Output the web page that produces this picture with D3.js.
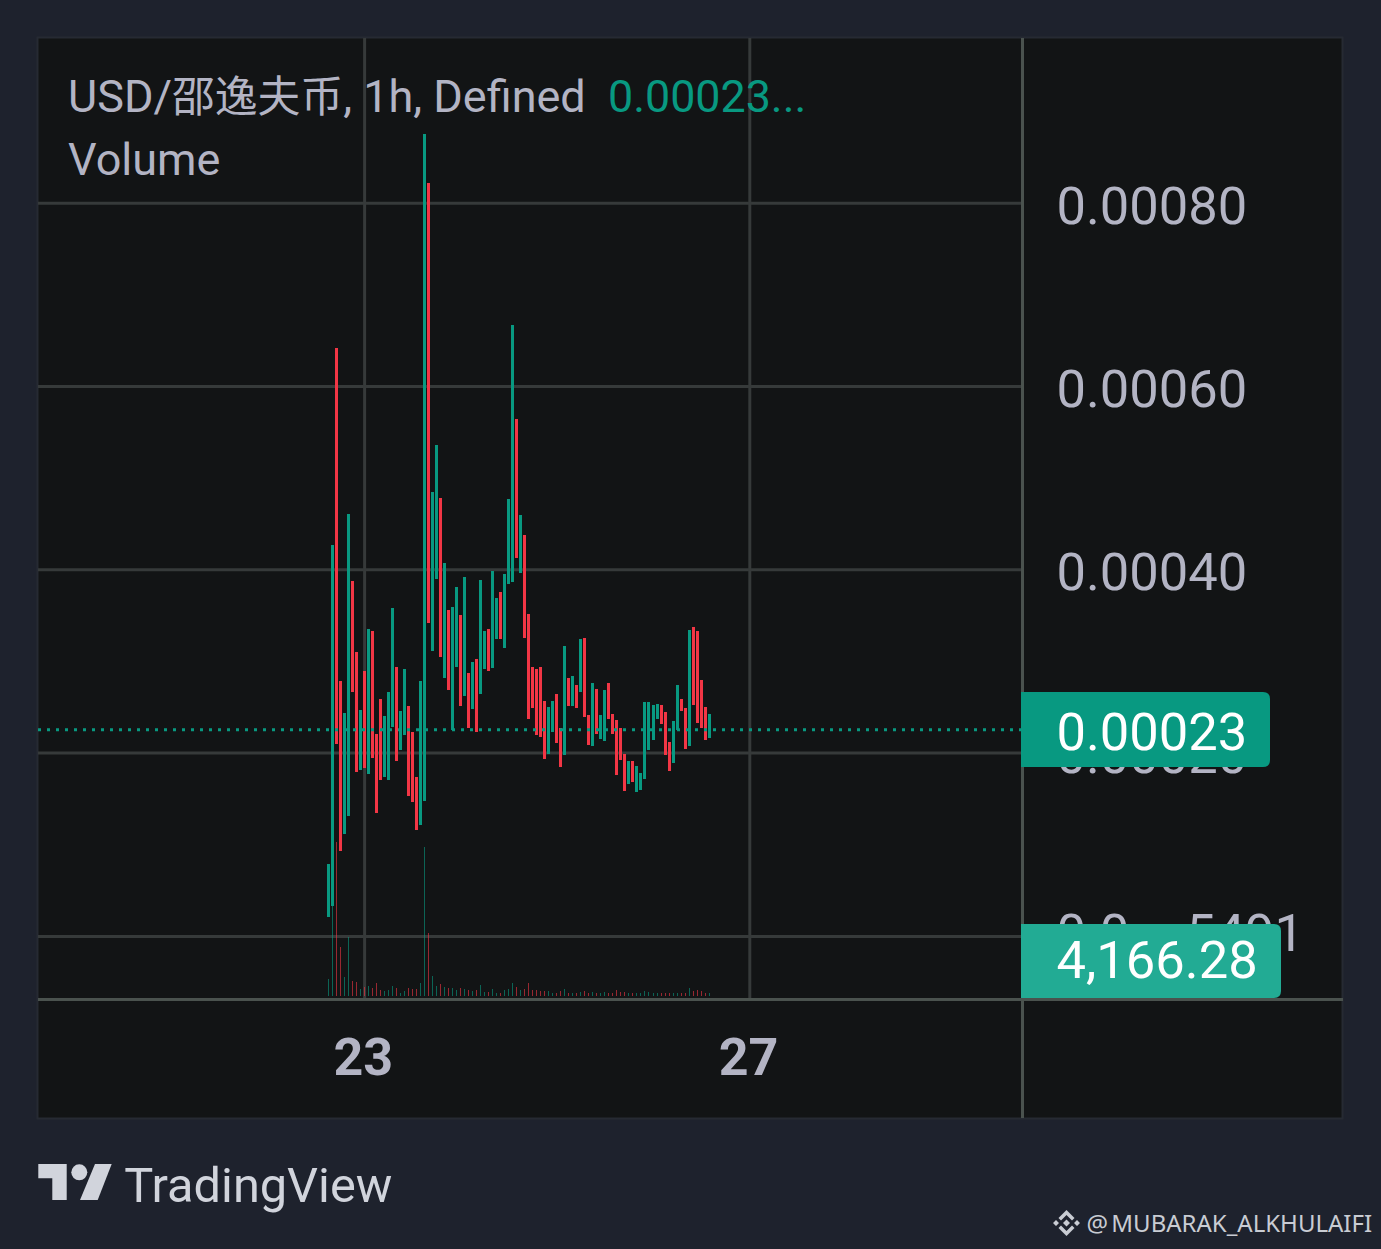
<!DOCTYPE html>
<html><head><meta charset="utf-8">
<script src="https://d3js.org/d3.v7.min.js"></script>
<style>html,body{margin:0;padding:0;background:#1e222d;overflow:hidden}svg{display:block}text{font-family:Roboto,"Noto Sans CJK SC",sans-serif}</style>
</head><body><svg id="c" width="1381" height="1249"></svg>
<script>
// Prices in millionths of a USD, hourly bars
const opens=[21.1,33.1,641.9,278.6,111.6,131.3,387.7,310.2,181.5,289.5,177.1,333.1,220.7,258.9,173.8,170.5,228.4,293.8,203.3,219.6,251.3,222.9,173.8,121.4,147.6,821.9,311.3,389.9,478.2,281.8,356.0,225.1,293.8,350.6,262.2,287.3,248.0,302.6,264.4,291.7,335.3,292.7,324.4,375.7,314.6,384.4,386.6,564.4,396.4,437.9,351.7,293.8,291.7,293.8,256.7,198.9,222.9,264.4,227.3,197.8,281.8,251.3,274.2,266.6,325.5,241.5,207.6,269.8,215.3,213.1,276.4,242.6,236.0,227.3,198.9,166.2,191.3,157.4,159.6,171.6,203.3,214.2,237.1,252.4,244.7,212.0,189.1,225.1,258.9,249.1,207.6,337.5,333.1,279.6,250.2,216.4];
const closes=[78.9,426.9,209.8,93.1,243.6,460.8,266.6,179.3,246.9,183.6,335.3,194.5,134.5,170.5,240.4,266.6,358.2,191.3,245.8,291.7,153.1,146.5,116.0,278.6,875.4,341.8,484.8,536.1,304.7,407.3,268.7,359.3,381.1,251.3,392.0,227.3,299.3,222.9,388.8,333.1,289.5,398.6,369.1,324.4,395.3,477.1,667.0,412.8,459.7,325.5,237.1,249.1,219.6,217.5,193.5,250.2,256.7,210.9,184.7,316.7,251.3,284.0,249.1,324.4,239.3,208.7,276.4,220.7,241.5,268.7,237.1,220.7,176.0,192.4,158.5,191.3,168.4,185.8,178.2,255.6,255.6,252.4,253.5,231.6,197.8,180.4,234.9,274.2,245.8,204.4,334.2,252.4,232.7,227.3,214.2,242.6];
// Volume in thousands
const volumes=[23.6,161,214,68,26.4,82,20.8,19.4,9.72,12.5,13.9,11.1,18.1,8.33,6.94,8.33,13.9,11.1,4.17,6.94,11.1,9.72,9.72,18.1,207,87.5,27.8,13.9,16.7,12.5,11.1,11.1,8.33,11.1,9.72,8.33,6.94,8.33,15.3,5.56,5.56,9.72,4.17,4.17,8.33,9.72,18.1,12.5,8.33,9.72,18.1,8.33,8.33,6.94,6.94,6.94,4.17,4.17,6.94,9.72,4.17,4.17,4.17,5.56,6.94,4.17,5.56,4.17,4.17,5.56,4.17,4.17,8.33,5.56,5.56,4.17,4.17,4.17,4.17,6.94,5.56,4.17,4.17,4.17,4.17,4.17,4.17,4.17,4.17,4.17,11.1,6.94,8.33,6.94,4.17,4.17];
const priceTicks=[800,600,400,200,0];
const priceTickLabels=["0.00080","0.00060","0.00040","0.00020"];
const timeTicks=[9,105];
const timeTickLabels=["23","27"];
const lastPrice=225.6;
const lastPriceLabel="0.00023";
const lastVolumeLabel="4,166.28";
const legendTitleParts=["USD/","邵逸夫币",", 1h, Defined"];
const legendValue="0.00023...";
const legendVolume="Volume";

const UP="#089981",DOWN="#f23645",AXIS="#b3b4c4",GRID="#363a3a",SEP="#4a524e";
const svg=d3.select("#c");
const x=d3.scaleLinear().domain([0,95]).range([328.5,328.5+95*4.0124]);
const y=d3.scaleLinear().domain([0,800]).range([936.4,203.2]);
const yVol=d3.scaleLinear().domain([0,214]).range([996,842]);
const isUp=i=>closes[i]>=opens[i];

svg.append("rect").attr("x",37.5).attr("y",37.5).attr("width",1305).attr("height",1081).attr("fill","#121415").attr("stroke","#262a33").attr("stroke-width",2);

// grid
svg.append("g").selectAll("line").data(priceTicks).join("line")
 .attr("x1",38).attr("x2",1022).attr("y1",d=>y(d)).attr("y2",d=>y(d)).attr("stroke",GRID).attr("stroke-width",3);
svg.append("g").selectAll("line").data(timeTicks).join("line")
 .attr("x1",d=>x(d)).attr("x2",d=>x(d)).attr("y1",38).attr("y2",998).attr("stroke",GRID).attr("stroke-width",3);

// volume
svg.append("g").attr("shape-rendering","crispEdges").selectAll("rect").data(volumes).join("rect")
 .attr("x",(d,i)=>Math.floor(x(i)-1.5)+1).attr("width",1)
 .attr("y",d=>yVol(d)).attr("height",d=>yVol(0)-yVol(d))
 .attr("fill",(d,i)=>isUp(i)?UP:DOWN).attr("fill-opacity",.6);

// candles
svg.append("g").attr("shape-rendering","crispEdges").selectAll("rect").data(opens).join("rect")
 .attr("x",(d,i)=>Math.floor(x(i)-1.5)).attr("width",3)
 .attr("y",(d,i)=>y(Math.max(opens[i],closes[i])))
 .attr("height",(d,i)=>Math.abs(y(opens[i])-y(closes[i])))
 .attr("fill",(d,i)=>isUp(i)?UP:DOWN);

// last price line
svg.append("line").attr("x1",38).attr("x2",1022).attr("y1",y(lastPrice)).attr("y2",y(lastPrice))
 .attr("stroke",UP).attr("stroke-width",3).attr("stroke-dasharray","3 6");

// separators
svg.append("line").attr("x1",38).attr("x2",1343).attr("y1",999.5).attr("y2",999.5).attr("stroke",SEP).attr("stroke-width",3);
svg.append("line").attr("x1",1022.5).attr("x2",1022.5).attr("y1",38).attr("y2",1118).attr("stroke",SEP).attr("stroke-width",3);

// axis labels
svg.append("g").selectAll("text").data(priceTickLabels).join("text")
 .attr("x",1056.5).attr("y",(d,i)=>y(priceTicks[i])+20.3).attr("font-size",52.5).attr("fill",AXIS).text(d=>d);
const sub=svg.append("text").attr("x",1056.5).attr("y",y(0)+15).attr("font-size",52.5).attr("fill",AXIS);
sub.append("tspan").text("0.0");
sub.append("tspan").attr("font-size",36).attr("dy",12).attr("dx",8).text("4");
sub.append("tspan").attr("x",1186).attr("y",y(0)+15).text("5491");
svg.append("g").selectAll("text").data(timeTickLabels).join("text")
 .attr("x",(d,i)=>x(timeTicks[i])-1.3).attr("y",1075).attr("text-anchor","middle").attr("font-size",52).attr("font-weight",700).attr("fill",AXIS).text(d=>d);

// tags
const tag=(x0,y0,w,h,fill,label,dy)=>{
 const r=7;
 svg.append("path").attr("fill",fill).attr("d",`M${x0},${y0}H${x0+w-r}Q${x0+w},${y0} ${x0+w},${y0+r}V${y0+h-r}Q${x0+w},${y0+h} ${x0+w-r},${y0+h}H${x0}Z`);
 svg.append("text").attr("x",1056.5).attr("y",y0+h/2+dy).attr("font-size",52.5).attr("fill","#fff").text(label);
};
tag(1021,692,249,75,UP,lastPriceLabel,20);
tag(1021,924,260,74,"#22ab94",lastVolumeLabel,16.5);

// legend
const lg=svg.append("text").attr("x",68).attr("y",112).attr("font-size",45).attr("fill",AXIS);
lg.selectAll("tspan").data(legendTitleParts).join("tspan")
 .attr("font-size",(d,i)=>i===1?42.8:45).text(d=>d);
svg.append("text").attr("x",608).attr("y",112).attr("font-size",44.8).attr("fill",UP).text(legendValue);
svg.append("text").attr("x",68).attr("y",174.5).attr("font-size",45).attr("fill",AXIS).text(legendVolume);

// TradingView brand
const brand=svg.append("g").attr("fill","#d1d4dc");
brand.append("path").attr("d","M38.3,1164H66.7V1200H52.3V1178.3H38.3Z");
brand.append("circle").attr("cx",79.3).attr("cy",1172.3).attr("r",8);
brand.append("path").attr("d","M95,1164H111.7L97.7,1200H80Z");
brand.append("text").attr("x",124.3).attr("y",1202).attr("font-size",48.7).attr("fill","#d1d4dc").style("font-family","Roboto").text("TradingView");

// watermark
const wm=svg.append("g").attr("fill","#c9ccd3").attr("transform","translate(1066.5,1223)");
wm.append("path").attr("d","M0,-3.5L3.5,0L0,3.5L-3.5,0Z");
wm.append("path").attr("d","M-13.5,0L-10.5,-3L-7.5,0L-10.5,3Z M13.5,0L10.5,-3L7.5,0L10.5,3Z");
wm.append("path").attr("d","M0,-13L8,-5L5.5,-2.5L0,-8L-5.5,-2.5L-8,-5Z");
wm.append("path").attr("d","M0,13L8,5L5.5,2.5L0,8L-5.5,2.5L-8,5Z");
svg.append("text").attr("x",1086.5).attr("y",1232).attr("font-size",24).attr("fill","#c9ccd3").attr("word-spacing",-3).style("font-family","'Noto Sans'").text("@ MUBARAK_ALKHULAIFI");
</script></body></html>
